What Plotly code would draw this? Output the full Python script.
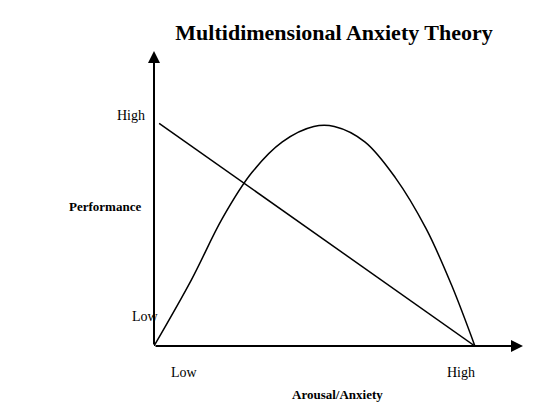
import plotly.graph_objects as go

# inverted-U curve (performance vs arousal)
curve_x = [0, 1.17, 2.13, 3.05, 4.0, 4.98, 5.62, 6.57, 7.52, 8.48, 9.27, 10]
curve_y = [0, 2.77, 5.32, 7.23, 8.51, 9.15, 9.15, 8.51, 7.02, 4.89, 2.55, 0]
# straight line (cognitive anxiety)
line_x = [0.16, 10]
line_y = [9.28, 0]

y_tick_pos = [0.069, 0.81]
y_tick_x = [-0.064, -0.105]
y_tick_text = ["Low", "High"]
x_tick_pos = [0.041, 0.876]
x_tick_text = ["Low", "High"]

serif = "Liberation Serif, Times New Roman, serif"

fig = go.Figure()
fig.add_trace(go.Scatter(x=curve_x, y=curve_y, mode="lines", line=dict(color="black", width=1.5, shape="spline"), showlegend=False))
fig.add_trace(go.Scatter(x=line_x, y=line_y, mode="lines", line=dict(color="black", width=1.5), showlegend=False))

# axes with arrows
fig.add_annotation(x=0, y=12.3, ax=0, ay=0, xref="x", yref="y", axref="x", ayref="y",
                   showarrow=True, arrowhead=2, arrowsize=1.2, arrowwidth=2, arrowcolor="black", text="")
fig.add_annotation(x=11.5, y=0, ax=0, ay=0, xref="x", yref="y", axref="x", ayref="y",
                   showarrow=True, arrowhead=2, arrowsize=1.2, arrowwidth=2, arrowcolor="black", text="")

for px_, py_, t in zip(y_tick_x, y_tick_pos, y_tick_text):
    fig.add_annotation(x=px_, y=py_, xref="paper", yref="paper", text=t, showarrow=False,
                       font=dict(family=serif, size=14, color="black"))
for px_, t in zip(x_tick_pos, x_tick_text):
    fig.add_annotation(x=px_, y=-0.12, xref="paper", yref="paper", text=t, showarrow=False,
                       font=dict(family=serif, size=14, color="black"))

fig.add_annotation(x=-0.235, y=0.472, xref="paper", yref="paper", text="<b>Performance</b>", showarrow=False,
                   font=dict(family=serif, size=13, color="black"))
fig.add_annotation(x=0.497, y=-0.197, xref="paper", yref="paper", text="<b>Arousal/Anxiety</b>", showarrow=False,
                   font=dict(family=serif, size=13, color="black"))

fig.update_layout(
    width=548, height=420,
    margin=dict(l=146, r=33, t=42, b=82),
    plot_bgcolor="white", paper_bgcolor="white",
    title=dict(text="<b>Multidimensional Anxiety Theory</b>", x=0.595, xanchor="center", y=0.96,
               font=dict(family=serif, size=22, color="black")),
    xaxis=dict(range=[0, 11.5], visible=False),
    yaxis=dict(range=[0, 12.34], visible=False),
)

fig.write_html("out.html")
